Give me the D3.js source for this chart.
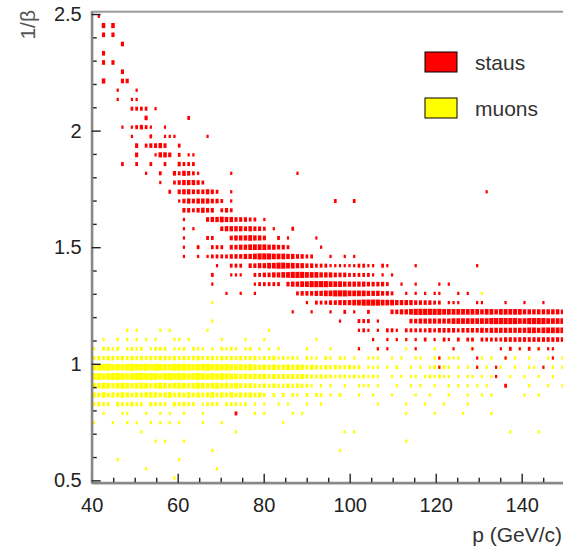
<!DOCTYPE html>
<html>
<head>
<meta charset="utf-8">
<script src="https://cdn.jsdelivr.net/npm/d3@7"></script>
<style>
  html, body { margin: 0; padding: 0; background: #fff; overflow: hidden; }
  svg { display: block; }
  text { font-family: "Liberation Sans", Arial, Helvetica, sans-serif; }
</style>
</head>
<body>
<svg id="chart" width="563" height="548"></svg>
<script>
// histogram binning: 100 bins in p, 51 bins in 1/beta
const pBins = { lo: 40, hi: 150, n: 100 };
const betaBins = { lo: 0.49, hi: 2.51, n: 51 };

const xTicks = [40, 60, 80, 100, 120, 140];
const yTicks = [0.5, 1, 1.5, 2, 2.5];
const legendNames = ['staus', 'muons'];

// bin contents, one string per 1/beta bin (key),
// one char per p bin ('.' = empty), spaces are only for reading
const stausRows = {
    50: ".2........",
    49: "..5.5.....",
    48: "..4.4.....",
    47: "......4...",
    46: "..4.......",
    45: "..4.4.....",
    44: "......4...",
    43: "..5...44..",
    42: ".....2...2",
    41: ".....2..22",
    40: "........33 33.2......",
    39: ".......... .4........ 3.........",
    38: "......2.23 432..2....",
    37: "........2. ..3..222.. ....2.....",
    36: ".........4 .34454..3.",
    35: ".........4 ...2554.3. 22........",
    34: "......3..3 ..3..3..43 33........",
    33: ".......... .2..3..435 432......2 .......... ...2......",
    32: ".......... ....2..345 5543......",
    31: ".......... ......3.45 5444543..2 .......... .......... .......... .......... .......... ...2......",
    30: ".......... ........24 54555443.2 .......... .......... .3...3....",
    29: ".......... .........4 434544.343",
    28: ".......... .........2 ....455655 44433.2...",
    27: ".......... .........2 .2.....455 5545443.2. ..3.......",
    26: ".......... .........2 ....33...4 5556554..3 .2.....2..",
    25: ".......... .........2 ..3..333.4 4556666554 43......2.",
    24: ".......... .........2 ..2.233334 4455677766 6554433... 2..2.2....",
    23: ".......... .......... ......2..3 33.4455667 7665544333 2222223322 .32.....2. .......... .2........",
    22: ".......... .......... .....3...2 22..334455 6677766655 5444333332 .2.2......",
    21: ".......... .......... .....2.... ....233333 .455667777 6665555544 443..2..2. ...2.2....",
    20: ".......... .......... ........2. .2..2..... ...3444556 6777666655 5443..2.2. 2.22...2.2",
    19: ".......... .......... .......... .......... .....2.333 4455566777 7666555544 4433.222.. .22....2.. .2...2....",
    18: ".......... .......... .......... .......... ..2...2... 2..3.2..3. ...4455677 7777666666 6656656666 6555555554",
    17: ".......... .......... .......... .......... .......... ..2...333. 2......445 5555556666 6666777777 6677776666",
    16: ".......... .......... .......... .......... .......... ......232. 2.332.3333 3434444344 4454555555 5566566666",
    15: ".......... .......... .......... .......... .......... .........2 ..2.2.2.2. 3.2.32.3.3 3.33333444 4444444444",
    14: ".......... .......... .......... .......... .......... ......2... 2.2.....2. ......2... 2.....2.3. 2.3.2.22..",
    13: ".......... .......... .......... .......... .......... .......... .......... ...2...... .2.....2.. .......2..",
    12: ".......... .......... .......... .......... .......... .......... .......... ...2...... .2...2.... .....2....",
    11: ".......... .......... .......... .......... .......... .......... .......... .......... .....2....",
    10: ".......... .......... .......... .......... .......... .......... .......... .......... .......3..",
    7:  ".......... .......... .......... 3........."
};

const muonsRows = {
    20: ".......... .......... .......... .......... .......... .......... .......... .......... ..2.......",
    19: ".......... .......... .....2....",
    17: ".......... .......... .....2....",
    16: ".......2.2 ....2.2... ....2..... .......2..",
    15: "..2..2.2.2 .2.2...22. 2......2.. ..2...2... .......2.. .......... ......2...",
    14: "2.3323.232 3.2333.223 .322.2.323 2.23.2.2.2 .....2.... 2.....2... 2.....2... ..2....... 2......... 2...2.....",
    13: "3434434343 4343443434 3443343434 3433423342 3232.322.3 2.32.2..22 2..2.2..22 ..22.222.. ..2.2..2.2 ..2...2..2",
    12: "7889787898 8979887989 8788978787 6767656565 5656545434 3433433.22 2.2.3..2.2 .23232.2.2 .2.2..2..2 ..22...2.2",
    11: "8978998789 9898789898 7898787877 6565656454 5454543343 3233232323 2..2.2.22. 232322.2.2 2.2.2...2. .2..2..2..",
    10: "6576567656 7656765676 5676567565 6545434343 3434332.2. 2..2..222. 2...2..2.2 ..2..2.2.2 .2.2...... ..2...2..2",
    9:  "5464546545 4565456454 6454564546 4545453.3. 3.32.3.33. 2.3...2..2 ...2....2. .2...2...2 ..2.2..... .2..2.....",
    8:  "3433.43343 3.4333.434 33.2333.33 323.2.2..2 .2...2..2. .......... 2.....2... 2...2....2",
    7:  "..2...22.. .2..2.2..2 ...2...... ....2.2... ..2.2..... .......... ......2... ..2.....2. ....2.....",
    6:  "2...2..2.2 ..2.2.2.2. ...2...2.. .......... 2.........",
    5:  ".......... 2......... .......... 2......... .......... ...2.2.... .......... .......... ........2. ....2.....",
    4:  ".......... ...2.2...2 .......... .......... .......... .......... ......2...",
    3:  ".......... .......... .....2.... .......... .......... ..2.......",
    2:  ".....2.... ........2.",
    1:  ".......... .2........ ......2...",
    0:  ".......... .......2.."
};

const svg = d3.select('#chart');

const x = d3.scaleLinear().domain([pBins.lo, pBins.hi]).range([91.7, 564.7]);
const y = d3.scaleLinear().domain([betaBins.lo, betaBins.hi]).range([482.7, 11.7]);

const dp = (pBins.hi - pBins.lo) / pBins.n;
const db = (betaBins.hi - betaBins.lo) / betaBins.n;
const cellW = x(pBins.lo + dp) - x(pBins.lo);
const cellH = (y(betaBins.lo) - y(betaBins.lo + db)) * 0.75;
const boxFrac = d3.scaleSqrt().domain([0, 9]).range([0, 1]).clamp(true);

function toCells(rows) {
    const out = [];
    Object.keys(rows).forEach(k => {
        const s = rows[k].replace(/\s/g, '');
        for (let i = 0; i < s.length; i++) {
            if (s[i] !== '.') out.push({ i: i, j: +k, c: +s[i] });
        }
    });
    return out;
}

function drawBoxes(rows, color) {
    svg.append('g')
        .selectAll('rect')
        .data(toCells(rows))
        .join('rect')
        .attr('x', d => x(pBins.lo + (d.i + 0.5) * dp) - cellW * boxFrac(d.c) / 2)
        .attr('y', d => y(betaBins.lo + (d.j + 0.5) * db) - cellH * boxFrac(d.c) / 2)
        .attr('width', d => cellW * boxFrac(d.c))
        .attr('height', d => cellH * boxFrac(d.c))
        .attr('fill', color);
}

drawBoxes(muonsRows, '#ffff00');
drawBoxes(stausRows, '#ff0000');

// frame
svg.append('rect')
    .attr('x', 91.7).attr('y', 11.7)
    .attr('width', 473).attr('height', 471)
    .attr('fill', 'none')
    .attr('stroke', '#999')
    .attr('stroke-width', 2);

// axes
const xMinor = d3.range(45, 150, 5).filter(v => v % 20 !== 0);
const yMinor = d3.range(6, 25).map(v => v / 10).filter(v => Math.round(v * 10) % 5 !== 0);

const gx = svg.append('g').attr('transform', 'translate(0,482.7)');
gx.append('g').call(d3.axisBottom(x).tickValues(xMinor).tickSizeInner(-5).tickSizeOuter(0).tickFormat(''));
gx.append('g').call(d3.axisBottom(x).tickValues(xTicks).tickSizeInner(-9).tickSizeOuter(0).tickPadding(15).tickFormat(d3.format('d')));

const gy = svg.append('g').attr('transform', 'translate(91.7,0)');
gy.append('g').call(d3.axisLeft(y).tickValues(yMinor).tickSizeInner(-5).tickSizeOuter(0).tickFormat(''));
gy.append('g').call(d3.axisLeft(y).tickValues(yTicks).tickSizeInner(-9).tickSizeOuter(0).tickPadding(10).tickFormat(d => d));

svg.selectAll('.domain').attr('stroke', '#888').attr('stroke-width', 2);
svg.selectAll('.tick line').attr('stroke', '#222').attr('stroke-width', 1.4);
svg.selectAll('.tick text').attr('font-size', 20).attr('fill', '#222')
    .attr('font-family', '"Liberation Sans", Arial, sans-serif');

// axis titles
svg.append('text')
    .attr('x', 562).attr('y', 542)
    .attr('text-anchor', 'end')
    .attr('font-size', 21)
    .attr('fill', '#333')
    .text('p (GeV/c)');

svg.append('text')
    .attr('transform', 'translate(35,10) rotate(-90)')
    .attr('text-anchor', 'end')
    .attr('font-size', 21)
    .attr('fill', '#555')
    .text('1/β');

// legend
const legend = svg.append('g');
const legendColors = ['#ff0000', '#ffff00'];
legendNames.forEach((name, k) => {
    const top = 52 + k * 46;
    legend.append('rect')
        .attr('x', 425).attr('y', top)
        .attr('width', 32).attr('height', 20)
        .attr('fill', legendColors[k])
        .attr('stroke', '#000')
        .attr('stroke-width', 1);
    legend.append('text')
        .attr('x', 475).attr('y', top + 17.5)
        .attr('font-size', 21)
        .attr('fill', '#333')
        .text(name);
});
</script>
</body>
</html>
